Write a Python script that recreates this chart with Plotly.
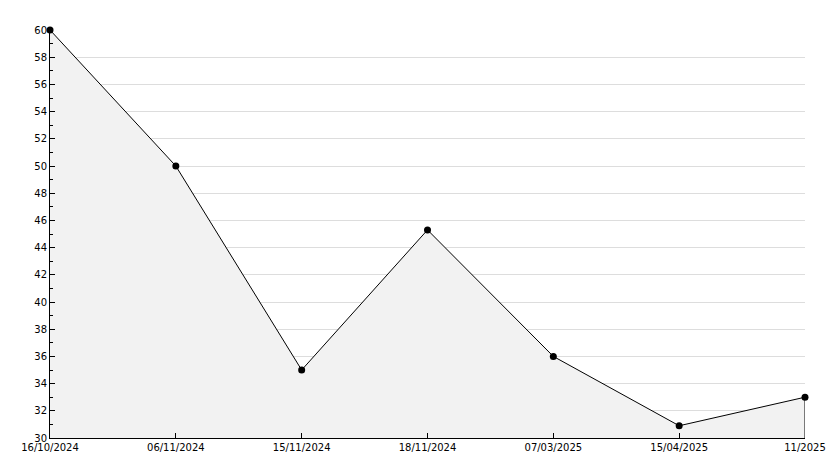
import plotly.graph_objects as go

categories = ["16/10/2024", "06/11/2024", "15/11/2024", "18/11/2024", "07/03/2025", "15/04/2025", "11/2025"]
values = [60, 50, 35, 45.3, 36, 30.9, 33]
y_min, y_max = 30, 60

x_idx = list(range(len(categories)))

fig = go.Figure()
fig.add_trace(go.Scatter(
    x=x_idx, y=values, mode="lines+markers",
    line=dict(color="black", width=1),
    marker=dict(color="black", size=7, symbol="circle"),
    fill="tozeroy", fillcolor="#f2f2f2",
    cliponaxis=False, hoverinfo="x+y",
))

fig.add_shape(type="line", x0=x_idx[-1], x1=x_idx[-1], y0=y_min, y1=values[-1],
              xref="x", yref="y", line=dict(color="black", width=1))

fig.update_layout(
    width=834, height=468,
    margin=dict(l=50, r=29, t=30, b=30, autoexpand=False),
    paper_bgcolor="white", plot_bgcolor="white",
    showlegend=False,
    font=dict(family="DejaVu Sans", size=10, color="black"),
    xaxis=dict(
        range=[0, len(categories) - 1],
        tickvals=x_idx, ticktext=categories,
        showgrid=False, zeroline=False, automargin=False,
        showline=True, linecolor="black", linewidth=1,
        ticks="inside", ticklen=5, tickcolor="black",
        tickfont=dict(size=10),
    ),
    yaxis=dict(
        range=[y_min, y_max], dtick=2, tick0=30,
        showgrid=True, gridcolor="#dddddd", gridwidth=1,
        zeroline=False, automargin=False,
        showline=True, linecolor="black", linewidth=1,
        ticks="inside", ticklen=5, tickcolor="black",
        tickfont=dict(size=10),
        minor=dict(dtick=1, ticks="inside", ticklen=3, tickcolor="black", showgrid=False),
    ),
)

fig.write_html("out.html", config={"displayModeBar": False},
               post_script="document.body.style.margin='0';")
